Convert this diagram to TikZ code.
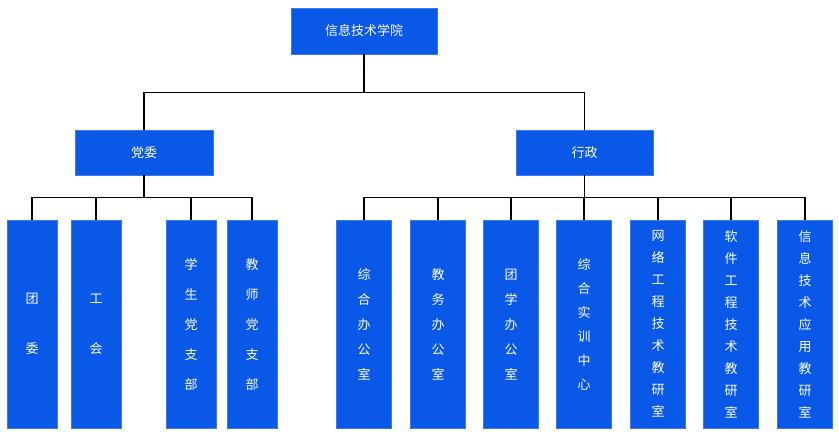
\documentclass[tikz,border=0pt]{standalone}
\usepackage{fontspec}
\setmainfont{Noto Sans CJK SC}
\definecolor{boxblue}{RGB}{10,88,232}
\definecolor{boxedge}{RGB}{60,120,240}
\tikzset{
  unit/.style={draw=boxedge, fill=boxblue, text=white, font=\fontsize{13}{15}\selectfont, inner sep=0pt},
  col/.style={unit, minimum width=50pt, minimum height=208pt, anchor=north, align=center},
  link/.style={draw=black, line width=1.2pt},
}
\begin{document}
\begin{tikzpicture}[x=1pt, y=-1pt]
  \useasboundingbox (0,0) rectangle (839,438);

  % Top levels
  \node[unit, minimum width=146pt, minimum height=46pt] (college) at (364,31) {信息技术学院};
  \node[unit, minimum width=138pt, minimum height=45pt] (party) at (144,152.5) {党委};
  \node[unit, minimum width=137pt, minimum height=45pt] (admin) at (584.5,152.5) {行政};

  % Party branches
  \foreach \name/\x/\txt/\sk in {tw/32/团\\委/50, gh/96/工\\会/50,
      xs/191/学\\生\\党\\支\\部/30, js/252/教\\师\\党\\支\\部/30}{
    \node[col, font=\fontsize{13}{\sk}\selectfont] (\name) at (\x,220) {\txt};
  }

  % Administration branches
  \foreach \name/\x/\txt/\sk in {zh/364/综\\合\\办\\公\\室/25, jw/438/教\\务\\办\\公\\室/25,
      tx/511/团\\学\\办\\公\\室/25, sx/584/综\\合\\实\\训\\中\\心/24,
      wl/658/网\\络\\工\\程\\技\\术\\教\\研\\室/22, rj/731/软\\件\\工\\程\\技\\术\\教\\研\\室/22,
      yy/805/信\\息\\技\\术\\应\\用\\教\\研\\室/22}{
    \node[col, minimum width=55pt, font=\fontsize{13}{\sk}\selectfont] (\name) at (\x,220) {\txt};
  }

  % Connectors
  \draw[link] (college.south) -- ++(0,38) -| (party.north);
  \draw[link] (college.south) ++(0,38) -| (admin.north);
  \foreach \n in {tw,gh,xs,js}{
    \draw[link] (party.south) -- ++(0,22) -| (\n.north);
  }
  \foreach \n in {zh,jw,tx,sx,wl,rj,yy}{
    \draw[link] (admin.south) -- ++(0,22) -| (\n.north);
  }
\end{tikzpicture}
\end{document}
